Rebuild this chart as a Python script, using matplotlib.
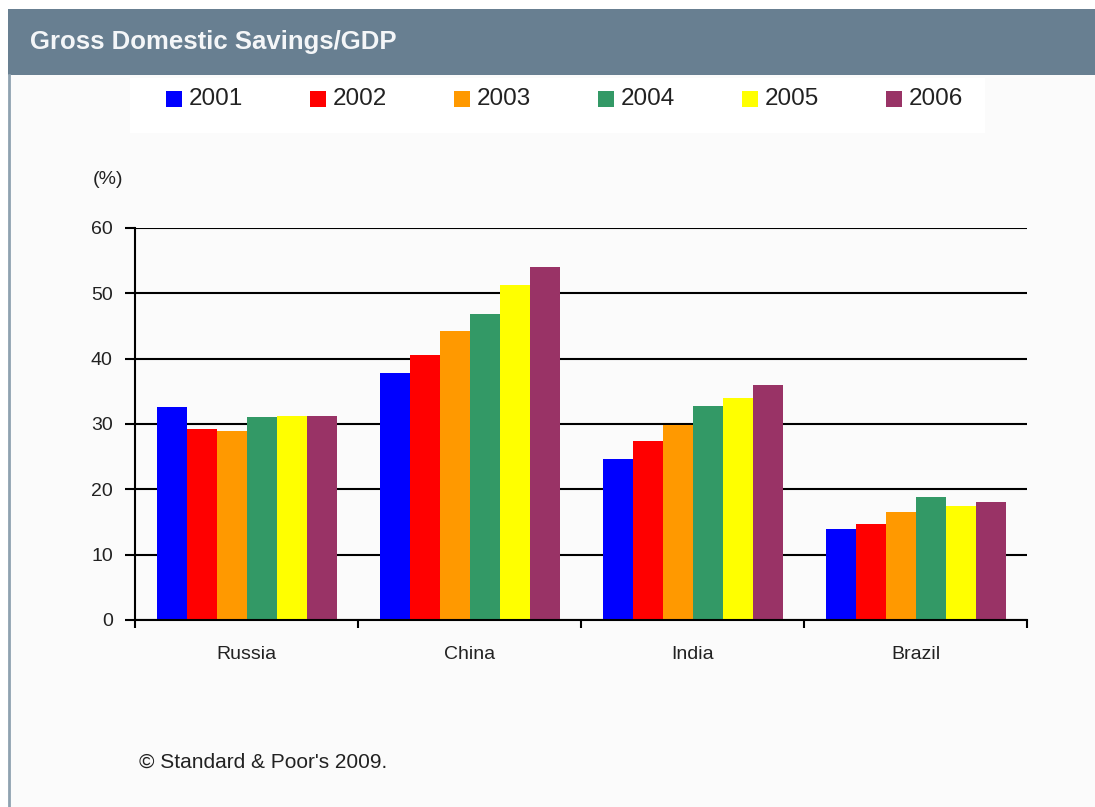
import matplotlib
matplotlib.use('Agg')
import matplotlib.pyplot as plt
from matplotlib.patches import Rectangle
import numpy as np

# data
countries = ['Russia', 'China', 'India', 'Brazil']
years = ['2001', '2002', '2003', '2004', '2005', '2006']
savings = {
    '2001': [32.6, 37.8, 24.6, 13.9],
    '2002': [29.2, 40.5, 27.4, 14.7],
    '2003': [28.9, 44.2, 29.8, 16.6],
    '2004': [31.0, 46.9, 32.8, 18.8],
    '2005': [31.3, 51.2, 34.0, 17.5],
    '2006': [31.3, 54.0, 35.9, 18.1],
}
colors = ['#0000FF', '#FF0000', '#FF9900', '#339966', '#FFFF00', '#993366']
yticks = [0, 10, 20, 30, 40, 50, 60]

W, H = 1095, 807
plt.rcParams['font.family'] = ['Liberation Sans', 'DejaVu Sans']

fig = plt.figure(figsize=(W / 100, H / 100), dpi=100)
fig.patch.set_facecolor('#FBFBFB')

# header bar and frame
fig.add_artist(Rectangle((0, 1 - 9 / H), 1, 9 / H, transform=fig.transFigure,
                         facecolor='white', edgecolor='none'))
fig.add_artist(Rectangle((8 / W, 1 - 75 / H), 1, 66 / H, transform=fig.transFigure,
                         facecolor='#687F91', edgecolor='none'))
fig.add_artist(Rectangle((0, 0), 8 / W, 1 - 9 / H, transform=fig.transFigure,
                         facecolor='white', edgecolor='none'))
fig.add_artist(plt.Line2D([8.5 / W, 8.5 / W], [0, 1 - 75 / H], transform=fig.transFigure,
                          color='#8FA2B0', lw=2))
fig.text(30 / W, 1 - 42 / H, 'Gross Domestic Savings/GDP', color='#F4F6F8',
         fontsize=18.5, fontweight='bold', va='center', ha='left')

# legend box
fig.add_artist(Rectangle((130 / W, 1 - 133 / H), 855 / W, 55 / H, transform=fig.transFigure,
                         facecolor='white', edgecolor='none'))
leg_x = [166, 310, 454, 598, 742, 886]
for x, yr, c in zip(leg_x, years, colors):
    fig.add_artist(Rectangle((x / W, 1 - 107 / H), 16 / W, 16 / H, transform=fig.transFigure,
                             facecolor=c, edgecolor='none'))
    fig.text((x + 23) / W, 1 - 99 / H, yr, fontsize=17.5, color='#222222',
             va='center', ha='left')

ax = fig.add_axes([135 / W, 1 - 620 / H, (1027 - 135) / W, (620 - 228) / H])
ax.set_facecolor('none')

x = np.arange(len(countries))
bw = 30 / 223
for j, (yr, c) in enumerate(zip(years, colors)):
    ax.bar(x + (j - 2.5) * bw, savings[yr], width=bw, color=c, zorder=3)

ax.set_xlim(-0.5, len(countries) - 0.5)
ax.set_ylim(0, 60)
ax.set_yticks(yticks)
ax.set_yticklabels([str(v) for v in yticks], fontsize=14, color='#222222')
ax.yaxis.grid(True, color='black', lw=1.5, zorder=0)
ax.set_axisbelow(True)

ax.set_xticks(np.arange(len(countries) + 1) - 0.5)
ax.set_xticklabels([])
ax.set_xticks(x, minor=True)
ax.set_xticklabels(countries, minor=True, fontsize=14, color='#222222')
ax.tick_params(axis='x', which='major', length=6, width=1.5, direction='out')
ax.tick_params(axis='x', which='minor', length=0, pad=19)
ax.tick_params(axis='y', length=7, width=1.5, pad=9)

for s in ['top', 'right']:
    ax.spines[s].set_visible(False)
for s in ['left', 'bottom']:
    ax.spines[s].set_linewidth(1.5)
    ax.spines[s].set_zorder(4)

fig.text(93 / W, 1 - 179 / H, '(%)', fontsize=14, color='#222222', va='center', ha='left')
fig.text(139 / W, 1 - 762 / H, '\u00a9 Standard & Poor\'s 2009.', fontsize=15,
         color='#222222', va='center', ha='left')

fig.savefig('out.png', dpi=100, facecolor=fig.get_facecolor())
